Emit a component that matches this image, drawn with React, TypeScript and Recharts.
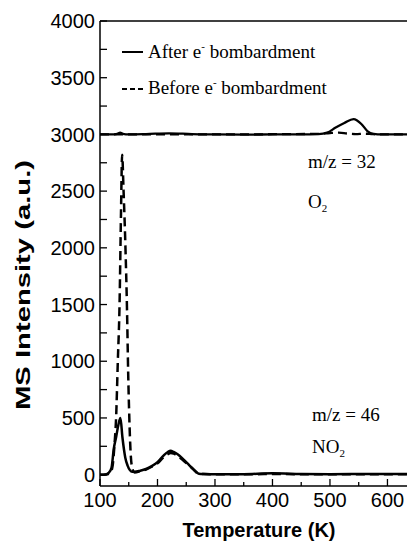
import { LineChart, Line, XAxis, YAxis, ReferenceLine } from "recharts";

// m/z = 46 (NO2), after e- bombardment
const no2AfterT = [100, 110, 115, 120, 124, 128, 132, 135.5, 139, 144, 148, 152, 156, 160, 170, 180, 190, 200, 210, 218, 223, 228, 235, 245, 255, 263, 268, 272, 280, 300, 350, 400, 450, 500, 550, 600, 634];
const no2AfterV = [0, 2, 15, 60, 230, 330, 440, 500, 330, 150, 80, 40, 25, 25, 35, 50, 75, 110, 165, 200, 210, 200, 180, 135, 85, 45, 20, 8, 5, 3, 4, 12, 6, 4, 5, 5, 5];

// m/z = 46 (NO2), before e- bombardment
const no2BeforeT = [100, 110, 118, 122, 125, 128, 131, 134, 136.5, 138.5, 141, 144, 147, 149, 151, 153, 156, 160, 170, 180, 190, 200, 210, 218, 223, 228, 235, 245, 255, 263, 268, 272, 280, 300, 400, 500, 600, 634];
const no2BeforeV = [0, 2, 15, 80, 250, 500, 1000, 1500, 2300, 2820, 2500, 2050, 1450, 900, 500, 220, 60, 20, 30, 45, 70, 100, 150, 180, 190, 185, 165, 125, 80, 45, 20, 8, 5, 3, 5, 4, 4, 4];

// m/z = 32 (O2), offset by 3000
const o2AfterT = [100, 120, 130, 135, 140, 150, 180, 220, 260, 300, 350, 400, 450, 480, 495, 510, 525, 541, 555, 565, 576, 590, 620, 634];
const o2AfterV = [3000, 3000, 3005, 3015, 3005, 3000, 3003, 3010, 3003, 3000, 2998, 3000, 3000, 3003, 3015, 3060, 3100, 3135, 3090, 3030, 3005, 3000, 3000, 3000];
const o2BeforeT = [100, 300, 480, 500, 515, 530, 545, 560, 575, 600, 634];
const o2BeforeV = [3000, 3000, 3005, 3012, 3015, 3008, 3003, 3006, 3002, 3000, 3000];

const xTicks = [100, 150, 200, 250, 300, 350, 400, 450, 500, 550, 600];
const yTicks = [0, 250, 500, 750, 1000, 1250, 1500, 1750, 2000, 2250, 2500, 2750, 3000, 3250, 3500, 3750, 4000];

const toRows = (t: number[], v: number[]) => t.map((x, i) => ({ t: x, v: v[i] }));

const sans = "'Liberation Sans', Arial, sans-serif";
const serif = "'Liberation Serif', 'Times New Roman', serif";

const XTick = (props: any) => {
  const { x, y, payload } = props;
  const major = payload.value % 100 === 0;
  return (
    <g>
      <line x1={x} x2={x} y1={y} y2={y - (major ? 7 : 4)} stroke="#000" strokeWidth={1.3} />
      {major && (
        <text x={x} y={y + 21} textAnchor="middle" fontFamily={sans} fontSize={20} fill="#000">
          {payload.value}
        </text>
      )}
    </g>
  );
};

const YTick = (props: any) => {
  const { x, y, payload } = props;
  const major = payload.value % 500 === 0;
  return (
    <g>
      <line x1={x} x2={x + 7} y1={y} y2={y} stroke="#000" strokeWidth={1.3} />
      {major && (
        <text x={x - 5} y={y} dy="0.36em" textAnchor="end" fontFamily={sans} fontSize={20} fill="#000">
          {payload.value}
        </text>
      )}
    </g>
  );
};

export default function App() {
  return (
    <div style={{ position: "absolute", left: 0, top: 0, background: "#fff" }}>
      <LineChart width={407} height={544} margin={{ top: 21, right: 0, bottom: 0, left: 0 }}>
        <XAxis
          dataKey="t"
          type="number"
          domain={[100, 634]}
          allowDataOverflow
          ticks={xTicks}
          interval={0}
          height={58}
          tickSize={0}
          tickMargin={0}
          tickLine={false}
          tick={<XTick />}
          axisLine={{ stroke: "#000", strokeWidth: 1.5 }}
        />
        <YAxis
          type="number"
          domain={[-100, 4000]}
          allowDataOverflow
          ticks={yTicks}
          interval={0}
          width={100}
          tickSize={0}
          tickMargin={0}
          tickLine={false}
          tick={<YTick />}
          axisLine={{ stroke: "#000", strokeWidth: 1.5 }}
        />
        <ReferenceLine y={4000} stroke="#000" strokeWidth={1.5} />
        <Line data={toRows(o2BeforeT, o2BeforeV)} dataKey="v" type="monotone" stroke="#000" strokeWidth={2.3} strokeDasharray="9 5" dot={false} isAnimationActive={false} />
        <Line data={toRows(o2AfterT, o2AfterV)} dataKey="v" type="monotone" stroke="#000" strokeWidth={2.3} dot={false} isAnimationActive={false} />
        <Line data={toRows(no2BeforeT, no2BeforeV)} dataKey="v" type="monotone" stroke="#000" strokeWidth={2.5} strokeDasharray="9 5" dot={false} isAnimationActive={false} />
        <Line data={toRows(no2AfterT, no2AfterV)} dataKey="v" type="monotone" stroke="#000" strokeWidth={2.5} dot={false} isAnimationActive={false} />

        {/* legend */}
        <line x1={122} x2={143} y1={52} y2={52} stroke="#000" strokeWidth={2} />
        <text x={148} y={58} fontFamily={serif} fontSize={19} fill="#000">
          After e<tspan fontSize={11} dy={-8}>-</tspan>
          <tspan dy={8}> bombardment</tspan>
        </text>
        <line x1={122} x2={143} y1={89} y2={89} stroke="#000" strokeWidth={2} strokeDasharray="5 3" />
        <text x={148} y={94} fontFamily={serif} fontSize={19} fill="#000">
          Before e<tspan fontSize={11} dy={-8}>-</tspan>
          <tspan dy={8}> bombardment</tspan>
        </text>

        <text x={308} y={168} fontFamily={serif} fontSize={19} fill="#000">m/z = 32</text>
        <text x={308} y={208} fontFamily={serif} fontSize={19} fill="#000">
          O<tspan fontSize={11} dy={4}>2</tspan>
        </text>
        <text x={312} y={421} fontFamily={serif} fontSize={19} fill="#000">m/z = 46</text>
        <text x={312} y={453} fontFamily={serif} fontSize={19} fill="#000">
          NO<tspan fontSize={11} dy={4}>2</tspan>
        </text>
        <text
          x={22}
          y={285}
          transform="rotate(-90, 22, 285)"
          textAnchor="middle"
          dominantBaseline="central"
          fontFamily={sans}
          fontWeight="bold"
          fontSize={21}
          textLength={250}
          lengthAdjust="spacingAndGlyphs"
          fill="#000"
        >
          MS Intensity (a.u.)
        </text>
        <text x={259} y={537} textAnchor="middle" fontFamily={sans} fontWeight="bold" fontSize={20} fill="#000">
          Temperature (K)
        </text>
      </LineChart>
    </div>
  );
}
